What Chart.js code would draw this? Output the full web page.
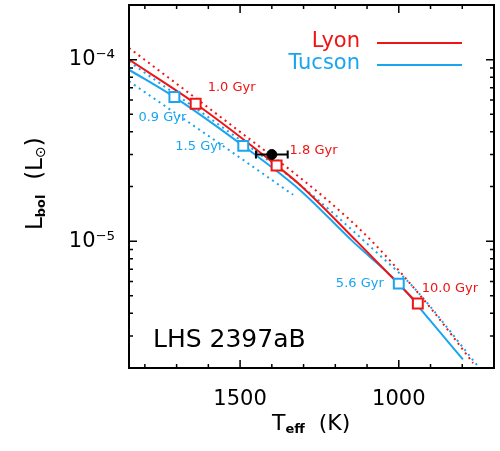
<!DOCTYPE html>
<html lang="en">
<head>
<meta charset="UTF-8">
<title>LHS 2397aB - Lbol vs Teff</title>
<script src="https://cdn.jsdelivr.net/npm/chart.js@4.4.0/dist/chart.umd.min.js"></script>
<style>
  html, body { margin: 0; padding: 0; background: #fff; }
  canvas { display: block; }
</style>
</head>
<body>
<canvas id="chart" width="500" height="451"></canvas>
<script>
const RED = '#f01414';
const BLUE = '#1aa5f0';
const FONT = '"DejaVu Sans", sans-serif';

// Lyon track (solid) and its upper bound (dotted)
const lyonTeff = [1850, 1640, 1385, 1311, 1133, 940];
const lyonLbol = [1.0e-4, 5.71e-5, 2.61e-5, 2.04e-5, 1.0e-5, 4.53e-6];
const lyonHiTeff = [1850, 1500, 1238, 1085, 902, 766];
const lyonHiLbol = [1.16e-4, 4.0e-5, 1.76e-5, 1.0e-5, 4.33e-6, 2.13e-6];

// Tucson track (solid) and its bounds (dotted)
const tucTeff = [1850, 1707, 1490, 1311, 1146, 1000, 902, 798];
const tucLbol = [8.8e-5, 6.22e-5, 3.35e-5, 1.91e-5, 1.0e-5, 5.83e-6, 3.67e-6, 2.23e-6];
const tucHiTeff = [1850, 1500, 1311, 1054, 954, 750];
const tucHiLbol = [9.75e-5, 3.61e-5, 2.04e-5, 8.18e-6, 5.58e-6, 2.04e-6];
const tucLoTeff = [1850, 1500, 1333];
const tucLoLbol = [7.6e-5, 2.88e-5, 1.8e-5];

// age markers
const lyonAges = ['1.0 Gyr', '1.8 Gyr', '10.0 Gyr'];
const lyonAgeTeff = [1640, 1385, 940];
const lyonAgeLbol = [5.71e-5, 2.61e-5, 4.53e-6];
const tucAges = ['0.9 Gyr', '1.5 Gyr', '5.6 Gyr'];
const tucAgeTeff = [1707, 1490, 1000];
const tucAgeLbol = [6.22e-5, 3.35e-5, 5.83e-6];

// measured object
const objTeff = [1400];
const objTeffErr = [50];
const objLbol = [3.0e-5];
const objLbolErr = [0.1e-5];

// axes
const xMin = 700, xMax = 1850;
const yMin = 2e-6, yMax = 2e-4;
const xMajor = [1500, 1000];
const xMinor = [1800, 1700, 1600, 1400, 1300, 1200, 1100, 900, 800];
const yMajor = [1e-4, 1e-5];
const yLabels = ['10⁻⁴', '10⁻⁵'];

const pts = (xs, ys) => xs.map((x, i) => ({ x: x, y: ys[i] }));

function lineSet(xs, ys, color, dotted) {
    return {
        type: 'line',
        data: pts(xs, ys),
        borderColor: color,
        borderWidth: 2,
        borderDash: dotted ? [2, 4] : [],
        pointRadius: 0,
        cubicInterpolationMode: 'monotone',
        fill: false
    };
}

// label offsets from the square (px) and alignment
const lyonLabelPos = [[12, -16, 'left'], [13, -15, 'left'], [4, -15, 'left']];
const tucLabelPos = [[-12, 21, 'center'], [-20, 1, 'right'], [-15, 0, 'right']];

function runs(ctx, x, y, parts) {
    ctx.textAlign = 'left';
    ctx.textBaseline = 'alphabetic';
    parts.forEach(p => {
        ctx.font = p.f;
        ctx.fillText(p.t, x, y + (p.dy || 0));
        x += ctx.measureText(p.t).width;
    });
}

const decorations = {
    id: 'decorations',
    afterDatasetsDraw(chart) {
        const ctx = chart.ctx;
        const xs = chart.scales.x, ys = chart.scales.y;
        const a = chart.chartArea;
        ctx.save();

        // error bar of the object
        ctx.strokeStyle = '#000';
        ctx.lineWidth = 2;
        objTeff.forEach((t, i) => {
            const px = xs.getPixelForValue(t);
            const py = ys.getPixelForValue(objLbol[i]);
            const x1 = xs.getPixelForValue(t + objTeffErr[i]);
            const x2 = xs.getPixelForValue(t - objTeffErr[i]);
            const y1 = ys.getPixelForValue(objLbol[i] + objLbolErr[i]);
            const y2 = ys.getPixelForValue(objLbol[i] - objLbolErr[i]);
            ctx.beginPath();
            ctx.moveTo(x1, py); ctx.lineTo(x2, py);
            ctx.moveTo(x1, py - 4); ctx.lineTo(x1, py + 4);
            ctx.moveTo(x2, py - 4); ctx.lineTo(x2, py + 4);
            ctx.moveTo(px, y1); ctx.lineTo(px, y2);
            ctx.stroke();
        });

        // age labels
        ctx.font = '13px ' + FONT;
        ctx.textBaseline = 'middle';
        ctx.fillStyle = RED;
        lyonAges.forEach((s, i) => {
            const p = lyonLabelPos[i];
            ctx.textAlign = p[2];
            ctx.fillText(s, xs.getPixelForValue(lyonAgeTeff[i]) + p[0], ys.getPixelForValue(lyonAgeLbol[i]) + p[1]);
        });
        ctx.fillStyle = BLUE;
        tucAges.forEach((s, i) => {
            const p = tucLabelPos[i];
            ctx.textAlign = p[2];
            ctx.fillText(s, xs.getPixelForValue(tucAgeTeff[i]) + p[0], ys.getPixelForValue(tucAgeLbol[i]) + p[1]);
        });

        // legend
        ctx.font = '21px ' + FONT;
        ctx.textAlign = 'right';
        ctx.fillStyle = RED;
        ctx.fillText('Lyon', 360, 42);
        ctx.fillStyle = BLUE;
        ctx.fillText('Tucson', 360, 64);
        ctx.lineWidth = 2;
        ctx.strokeStyle = RED;
        ctx.beginPath(); ctx.moveTo(377, 43); ctx.lineTo(462, 43); ctx.stroke();
        ctx.strokeStyle = BLUE;
        ctx.beginPath(); ctx.moveTo(377, 65); ctx.lineTo(462, 65); ctx.stroke();

        // object name
        ctx.fillStyle = '#000';
        ctx.font = '25px ' + FONT;
        ctx.textAlign = 'left';
        ctx.textBaseline = 'alphabetic';
        ctx.fillText('LHS 2397aB', 153, 347);

        // frame and inward ticks
        ctx.lineWidth = 2;
        ctx.strokeStyle = '#000';
        ctx.strokeRect(a.left, a.top, a.right - a.left, a.bottom - a.top);
        ctx.lineWidth = 1.5;
        ctx.beginPath();
        const xt = (v, len) => {
            const px = xs.getPixelForValue(v);
            ctx.moveTo(px, a.bottom); ctx.lineTo(px, a.bottom - len);
            ctx.moveTo(px, a.top); ctx.lineTo(px, a.top + len);
        };
        const yt = (v, len) => {
            const py = ys.getPixelForValue(v);
            ctx.moveTo(a.left, py); ctx.lineTo(a.left + len, py);
            ctx.moveTo(a.right, py); ctx.lineTo(a.right - len, py);
        };
        xMajor.forEach(v => xt(v, 8));
        xMinor.forEach(v => xt(v, 4));
        for (let d = -6; d <= -4; d++) {
            for (let m = 1; m <= 9; m++) {
                const v = m * Math.pow(10, d);
                if (v < yMin || v > yMax) continue;
                yt(v, m === 1 ? 8 : 4);
            }
        }
        ctx.stroke();

        // axis titles
        runs(ctx, 272, 430, [
            { t: 'T', f: '22px ' + FONT },
            { t: 'eff', f: 'bold 13px ' + FONT, dy: 3 },
            { t: '  (K)', f: '22px ' + FONT }
        ]);
        ctx.translate(42, 230);
        ctx.rotate(-Math.PI / 2);
        runs(ctx, 0, 0, [
            { t: 'L', f: '23px ' + FONT },
            { t: 'bol', f: 'bold 13px ' + FONT, dy: 3 },
            { t: '  (L', f: '23px ' + FONT },
            { t: '⊙', f: '14px ' + FONT, dy: 3 },
            { t: ')', f: '23px ' + FONT }
        ]);
        ctx.restore();
    }
};

new Chart(document.getElementById('chart'), {
    type: 'scatter',
    data: {
        datasets: [
            {
                data: pts(objTeff, objLbol),
                pointStyle: 'circle',
                pointRadius: 5,
                backgroundColor: '#000',
                borderColor: '#000'
            },
            {
                data: pts(lyonAgeTeff, lyonAgeLbol),
                pointStyle: 'rect',
                pointRadius: 7,
                borderWidth: 2,
                borderColor: RED,
                backgroundColor: '#fff'
            },
            {
                data: pts(tucAgeTeff, tucAgeLbol),
                pointStyle: 'rect',
                pointRadius: 7,
                borderWidth: 2,
                borderColor: BLUE,
                backgroundColor: '#fff'
            },
            lineSet(lyonTeff, lyonLbol, RED, false),
            lineSet(tucTeff, tucLbol, BLUE, false),
            lineSet(lyonHiTeff, lyonHiLbol, RED, true),
            lineSet(tucHiTeff, tucHiLbol, BLUE, true),
            lineSet(tucLoTeff, tucLoLbol, BLUE, true)
        ]
    },
    options: {
        responsive: false,
        animation: false,
        devicePixelRatio: 1,
        layout: { autoPadding: false, padding: { top: 5, right: 6, left: 0, bottom: 0 } },
        plugins: { legend: { display: false }, tooltip: { enabled: false } },
        scales: {
            x: {
                type: 'linear',
                reverse: true,
                min: xMin,
                max: xMax,
                grid: { display: false, drawTicks: false },
                border: { display: false },
                afterBuildTicks: s => { s.ticks = xMajor.map(v => ({ value: v })); },
                afterFit: s => { s.height = 83; s.paddingLeft = 0; s.paddingRight = 0; },
                ticks: {
                    padding: 19,
                    maxRotation: 0,
                    color: '#000',
                    font: { family: FONT, size: 21 },
                    callback: v => String(v)
                }
            },
            y: {
                type: 'logarithmic',
                min: yMin,
                max: yMax,
                grid: { display: false, drawTicks: false },
                border: { display: false },
                afterBuildTicks: s => { s.ticks = yMajor.map(v => ({ value: v })); },
                afterFit: s => { s.width = 129; s.paddingTop = 0; s.paddingBottom = 0; },
                ticks: {
                    padding: 14,
                    color: '#000',
                    font: { family: FONT, size: 21 },
                    callback: v => yLabels[yMajor.indexOf(v)] || ''
                }
            }
        }
    },
    plugins: [decorations]
});
</script>
</body>
</html>
